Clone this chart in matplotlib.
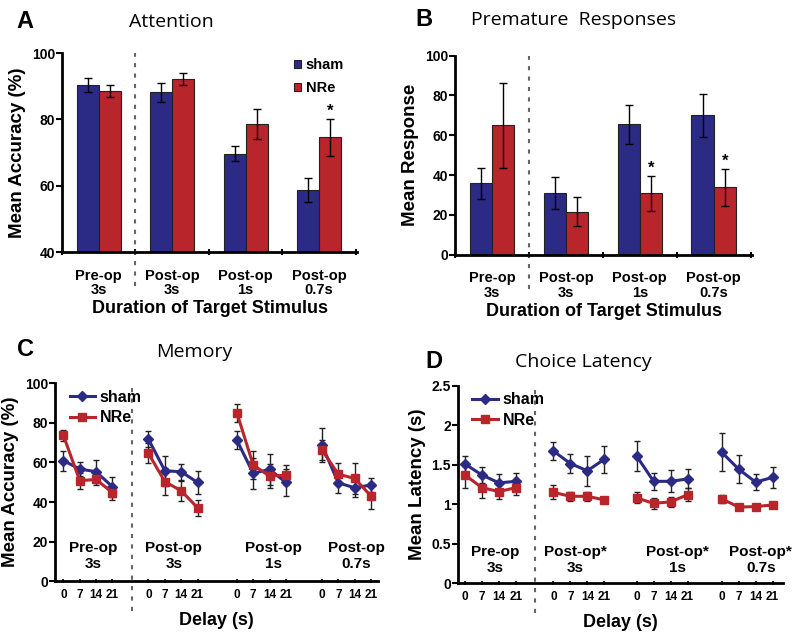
import numpy as np
import matplotlib
matplotlib.use("Agg")
import matplotlib.pyplot as plt
from matplotlib.lines import Line2D
from matplotlib.ticker import FormatStrFormatter

plt.rcParams['font.family'] = ['Liberation Sans', 'DejaVu Sans']
plt.rcParams['font.weight'] = 'bold'
plt.rcParams['axes.labelweight'] = 'bold'

sham_color = '#2b2a85'
nre_color = '#b8252b'

# --- data ---
groups = ["Pre-op\n3s", "Post-op\n3s", "Post-op\n1s", "Post-op\n0.7s"]
groups_star = ["Pre-op\n3s", "Post-op*\n3s", "Post-op*\n1s", "Post-op*\n0.7s"]
delays = [0, 7, 14, 21]

attn_sham = [90.3, 88.2, 69.7, 58.8]
attn_sham_err = [2.1, 2.9, 2.2, 3.7]
attn_nre = [88.6, 92.2, 78.7, 74.6]
attn_nre_err = [1.7, 1.7, 4.5, 5.5]
attn_sig = [False, False, False, True]

prem_sham = [36, 31, 65.5, 70]
prem_sham_err = [7.8, 8, 9.7, 10.8]
prem_nre = [65, 21.5, 31, 34]
prem_nre_err = [21.3, 7.3, 8.8, 9.3]
prem_sig = [False, False, True, True]

mem_sham = [[60.9, 56.7, 55.3, 47.7], [71.8, 55.8, 55.3, 49.9],
            [71.3, 54.5, 56.5, 49.9], [68.8, 49.7, 47.2, 48.6]]
mem_sham_err = [[5, 3.6, 5.7, 5], [4, 7.5, 4, 6], [4.5, 8, 8, 7], [8.5, 5, 4.5, 3.5]]
mem_nre = [[73.7, 50.8, 51.4, 44.7], [64.6, 50.3, 45.7, 37.1],
           [85.2, 58.7, 53.1, 53.6], [66.3, 54.1, 51.9, 43.0]]
mem_nre_err = [[2.7, 4, 3, 3.5], [5, 7, 5, 4], [4.5, 7, 6, 5], [5, 5.5, 8, 6.5]]

lat_sham = [[1.51, 1.37, 1.27, 1.29], [1.675, 1.516, 1.424, 1.57],
            [1.61, 1.29, 1.29, 1.32], [1.66, 1.445, 1.28, 1.34]]
lat_sham_err = [[0.1, 0.1, 0.11, 0.1], [0.12, 0.12, 0.19, 0.17],
                [0.19, 0.11, 0.14, 0.12], [0.24, 0.18, 0.1, 0.13]]
lat_nre = [[1.37, 1.21, 1.16, 1.21], [1.15, 1.10, 1.10, 1.055],
           [1.08, 1.01, 1.03, 1.12], [1.07, 0.963, 0.97, 0.99]]
lat_nre_err = [[0.16, 0.13, 0.1, 0.09], [0.09, 0.06, 0.06, 0.04],
               [0.07, 0.07, 0.06, 0.08], [0.05, 0.02, 0.02, 0.02]]

fig = plt.figure(figsize=(8, 6.4), dpi=100)

axA = fig.add_axes([0.0775, 0.606, 0.369, 0.311])
axB = fig.add_axes([0.569, 0.602, 0.371, 0.311])
axC = fig.add_axes([0.069, 0.092, 0.404, 0.309])
axD = fig.add_axes([0.5725, 0.089, 0.406, 0.308])


def style(ax):
    for s in ['top', 'right']:
        ax.spines[s].set_visible(False)
    for s in ['left', 'bottom']:
        ax.spines[s].set_linewidth(2)
    ax.tick_params(axis='y', length=4, width=1.5, labelsize=10, pad=1)
    for t in ax.get_yticklabels() + ax.get_xticklabels():
        t.set_fontweight('bold')


def bar_panel(ax, sham, sham_err, nre, nre_err, sig, ylim, yticks, ylabel):
    x = np.arange(len(groups))
    w = 0.3
    ax.bar(x - w / 2, sham, w, color=sham_color, edgecolor='#222', linewidth=0.8,
           yerr=sham_err, capsize=3, error_kw=dict(lw=1, capthick=1), label='sham')
    ax.bar(x + w / 2, nre, w, color=nre_color, edgecolor='#222', linewidth=0.8,
           yerr=nre_err, capsize=3, error_kw=dict(lw=1, capthick=1), label='NRe')
    for i, s in enumerate(sig):
        if s:
            ax.annotate('*', (x[i] + w / 2, nre[i] + nre_err[i]), xytext=(0, 0),
                        textcoords='offset points', ha='center', va='bottom',
                        fontsize=12, fontweight='bold')
    ax.set_xlim(-0.5, 3.52)
    ax.set_ylim(*ylim)
    ax.set_yticks(yticks)
    ax.set_xticks(x)
    ax.set_xticklabels(groups, fontsize=10.5, linespacing=1.05, fontweight='bold')
    ax.tick_params(axis='x', which='major', length=0, pad=12)
    ax.set_xticks(np.arange(-0.5, 4, 1), minor=True)
    ax.tick_params(axis='x', which='minor', length=5, width=1.5, direction='inout')
    ax.axvline(0.5, ymin=-0.17, ymax=1, color='#666', ls=(0, (2, 3)), lw=1.5, clip_on=False)
    ax.set_ylabel(ylabel, fontsize=13.5, fontweight='bold', labelpad=4)
    ax.set_xlabel('Duration of Target Stimulus', fontsize=13, fontweight='bold',
                  labelpad=2)
    style(ax)


bar_panel(axA, attn_sham, attn_sham_err, attn_nre, attn_nre_err, attn_sig,
          (40, 100), [40, 60, 80, 100], 'Mean Accuracy (%)')
axA.legend(loc='upper right', bbox_to_anchor=(1.0, 1.04), frameon=False,
           handlelength=0.5, handleheight=0.5, handletextpad=0.3,
           labelspacing=0.6, prop=dict(weight='bold', size=10.5))

bar_panel(axB, prem_sham, prem_sham_err, prem_nre, prem_nre_err, prem_sig,
          (0, 100), [0, 20, 40, 60, 80, 100], 'Mean Response')


def line_panel(ax, sham, sham_err, nre, nre_err, starts, labels, label_x, label_y,
               ylim, yticks, ylabel, xlim, dash_x, ms_sq, ms_d):
    step = np.arange(len(delays))
    for g in range(len(labels)):
        xs = starts[g] + step
        ax.errorbar(xs, sham[g], yerr=sham_err[g], color=sham_color, marker='D',
                    ms=ms_d, lw=2.2, ecolor='#222', elinewidth=1, capsize=2.5,
                    capthick=1, zorder=3)
        ax.errorbar(xs, nre[g], yerr=nre_err[g], color=nre_color, marker='s',
                    ms=ms_sq, lw=2.2, ecolor='#222', elinewidth=1, capsize=2.5,
                    capthick=1, zorder=3)
        ax.text(label_x[g], label_y, labels[g], ha='center', va='center',
                fontsize=11, fontweight='bold', linespacing=1.2)
    ticks = np.concatenate([s + step for s in starts])
    ax.set_xticks(ticks)
    ax.set_xticklabels([str(d) for d in delays] * len(labels), fontsize=8.5)
    ax.tick_params(axis='x', length=3, width=1.2, direction='inout', pad=4)
    ax.set_xlim(*xlim)
    ax.set_ylim(*ylim)
    ax.set_yticks(yticks)
    ax.axvline(dash_x, ymin=-0.15, ymax=1, color='#666', ls=(0, (2, 3)), lw=1.5,
               clip_on=False)
    ax.set_ylabel(ylabel, fontsize=13.5, fontweight='bold', labelpad=4)
    ax.set_xlabel('Delay (s)', fontsize=13, fontweight='bold', labelpad=8)
    handles = [Line2D([], [], color=sham_color, marker='D', ms=ms_d, lw=2.2),
               Line2D([], [], color=nre_color, marker='s', ms=ms_sq, lw=2.2)]
    ax.legend(handles, ['sham', 'NRe'], loc='upper left',
              bbox_to_anchor=(0.0, 1.04), frameon=False,
              handlelength=1.6, handletextpad=0.3, labelspacing=0.35,
              prop=dict(weight='bold', size=11.5))
    style(ax)


line_panel(axC, mem_sham, mem_sham_err, mem_nre, mem_nre_err,
           [0, 5.2, 10.6, 15.8], groups, [1.84, 6.75, 12.85, 17.9], 12.8,
           (0, 100), [0, 20, 40, 60, 80, 100], 'Mean Accuracy (%)',
           (-0.5, 19.25), 4.2, 6, 5)

line_panel(axD, lat_sham, lat_sham_err, lat_nre, lat_nre_err,
           [0, 5.2, 10.1, 15.1], groups_star, [1.8, 6.5, 12.5, 17.4], 0.29,
           (0, 2.5), [0, 0.5, 1, 1.5, 2, 2.5], 'Mean Latency (s)',
           (-0.41, 18.7), 4.1, 5.5, 5)
axD.yaxis.set_major_formatter(FormatStrFormatter('%g'))
for t in axD.get_yticklabels():
    t.set_fontweight('bold')

# panel letters and titles
for x, y, s in [(25, 22, 'A'), (424, 20, 'B'), (25, 350, 'C'), (434, 362, 'D')]:
    fig.text(x / 800, 1 - y / 640, s, fontsize=17, fontweight='bold',
             ha='center', va='center')
for x, y, s in [(171, 22, 'Attention'), (574, 20, 'Premature  Responses'),
                (194, 352, 'Memory'), (583, 362, 'Choice Latency')]:
    fig.text(x / 800, 1 - y / 640, s, fontsize=14, fontweight='normal',
             family=['Open Sans', 'DejaVu Sans'], ha='center', va='center')

fig.savefig('out.png', dpi=100)
